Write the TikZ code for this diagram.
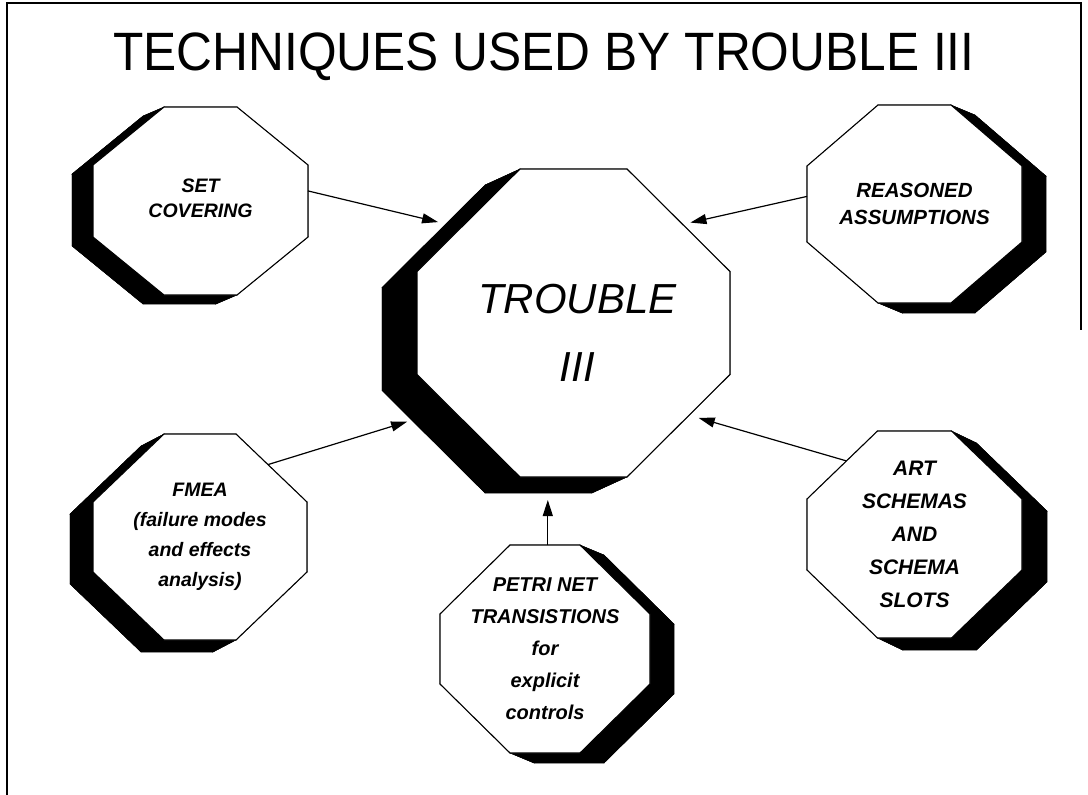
\documentclass[tikz,border=0pt]{standalone}
\usepackage{fontspec}
\setmainfont{Liberation Sans}
\newfontfamily\labelfont{Liberation Sans}
\usetikzlibrary{arrows.meta,calc}

% Octagon with a solid extruded shadow.
% #1 name, (#2,#3) centre, #4/#5 half width/height,
% #6/#7 horizontal/vertical corner cut, #8/#9 shadow offset
\newcommand{\octshape}[9]{%
  \coordinate (#1-c) at (#2,#3);
  \coordinate (#1-1) at ({#2-#4+#6},{#3-#5});
  \coordinate (#1-2) at ({#2+#4-#6},{#3-#5});
  \coordinate (#1-3) at ({#2+#4},{#3-#5+#7});
  \coordinate (#1-4) at ({#2+#4},{#3+#5-#7});
  \coordinate (#1-5) at ({#2+#4-#6},{#3+#5});
  \coordinate (#1-6) at ({#2-#4+#6},{#3+#5});
  \coordinate (#1-7) at ({#2-#4},{#3+#5-#7});
  \coordinate (#1-8) at ({#2-#4},{#3-#5+#7});
  \foreach \k in {1,...,8}{\coordinate (#1-s\k) at ($(#1-\k)+(#8,#9)$);}
  % the shadow is the octagon swept along the offset
  \filldraw[shade] (#1-s1) -- (#1-s2) -- (#1-s3) -- (#1-s4) -- (#1-s5)
    -- (#1-s6) -- (#1-s7) -- (#1-s8) -- cycle;
  \foreach \k/\n in {1/2,2/3,3/4,4/5,5/6,6/7,7/8,8/1}{%
    \filldraw[shade] (#1-\k) -- (#1-\n) -- (#1-s\n) -- (#1-s\k) -- cycle;}
  \filldraw[octface] (#1-1) -- (#1-2) -- (#1-3) -- (#1-4) -- (#1-5)
    -- (#1-6) -- (#1-7) -- (#1-8) -- cycle;
}

\tikzset{
  shade/.style={fill=black, draw=black, line width=0.3pt},
  octface/.style={fill=white, draw=black, line width=1.1pt, line join=miter},
  lbl/.style={align=center, inner sep=0pt},
  feed/.style={line width=1.2pt, -{Triangle[length=16pt,width=10pt]}},
  frame/.style={line width=1.6pt}
}

\begin{document}
\begin{tikzpicture}[x=1pt,y=-1pt]
\useasboundingbox (0,0) rectangle (1088,795);

% page frame
\draw[frame] (7,795) -- (7,3) -- (1081,3) -- (1081,330);

% title
\node[anchor=base] (title) at (544,70)
  {\fontsize{54}{60}\selectfont\scalebox{0.92}[1]{TECHNIQUES USED BY TROUBLE III}};

% octagons
\octshape{tr}{573.5}{323}{156.5}{154}{103}{102.5}{-35}{16}
\octshape{sc}{200.5}{201}{107.5}{94}{71}{58}{-21}{9}
\octshape{ra}{914.5}{204}{107.5}{99}{71}{61}{24}{10}
\octshape{fm}{200}{537}{107}{103}{71}{68}{-23}{12}
\octshape{art}{914.5}{534.5}{107.5}{103.5}{70.5}{68}{25}{12}
\octshape{pn}{545}{649}{105}{104}{70}{69}{24}{10}

% labels
\node[lbl, font=\labelfont\itshape\fontsize{42}{68}\selectfont] (tr) at ($(tr-c)+(4,10)$) {TROUBLE\\III};
\node[lbl, font=\labelfont\bfseries\itshape\fontsize{19.5}{25}\selectfont] (sc) at ($(sc-c)+(0,-3)$) {SET\\COVERING};
\node[lbl, font=\labelfont\bfseries\itshape\fontsize{20.5}{27}\selectfont] (ra) at (ra-c) {REASONED\\ASSUMPTIONS};
\node[lbl, font=\labelfont\bfseries\itshape\fontsize{19.5}{30}\selectfont] (fm) at (fm-c) {FMEA\\(failure modes\\and effects\\analysis)};
\node[lbl, font=\labelfont\bfseries\itshape\fontsize{21}{33}\selectfont] (art) at (art-c) {ART\\SCHEMAS\\AND\\SCHEMA\\SLOTS};
\node[lbl, font=\labelfont\bfseries\itshape\fontsize{20}{32}\selectfont] (pn) at (pn-c) {PETRI NET\\TRANSISTIONS\\for\\explicit\\controls};

% connectors into the central octagon
\coordinate (pn-top) at ($(pn-1)!0.54!(pn-2)$);
\draw[feed, shorten >=8pt] ($(sc-3)!0.36!(sc-4)$) -- ($(tr-s1)!0.38!(tr-s8)$);
\draw[feed, shorten >=8pt] ($(ra-8)!0.4!(ra-7)$) -- ($(tr-2)!0.54!(tr-3)$);
\draw[feed, shorten >=5pt] ($(fm-2)!0.45!(fm-3)$) -- ($(tr-s7)!0.29!(tr-s6)$);
\draw[feed, shorten >=10pt] ($(art-1)!0.44!(art-8)$) -- ($(tr-4)!0.397!(tr-5)$);
\draw[feed, shorten >=7pt] (pn-top) -- (pn-top |- tr-s6);
\end{tikzpicture}
\end{document}
